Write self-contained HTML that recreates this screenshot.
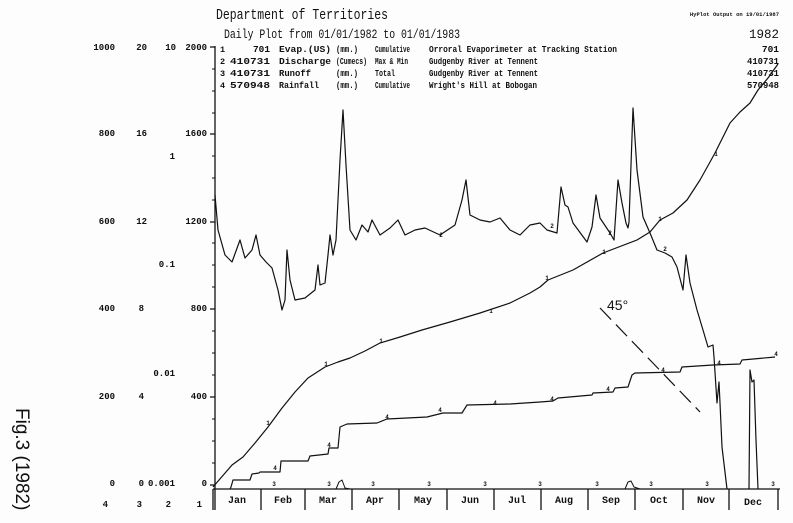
<!DOCTYPE html>
<html><head><meta charset="utf-8"><style>
html,body{margin:0;padding:0;background:#fff;}
svg{display:block;}
text{font-family:"Liberation Mono",monospace;fill:#111;}
</style></head><body>
<svg width="793" height="523" viewBox="0 0 793 523" xmlns="http://www.w3.org/2000/svg">
<rect width="793" height="523" fill="#fdfdfd"/>
<text x="216" y="19" font-size="15" textLength="172" lengthAdjust="spacingAndGlyphs">Department of Territories</text>
<text x="224" y="38" font-size="12.5" textLength="236" lengthAdjust="spacingAndGlyphs">Daily Plot from 01/01/1982 to 01/01/1983</text>
<text x="779" y="16" font-size="5.5" text-anchor="end" font-weight="bold">HyPlot Output on 19/01/1987</text>
<text x="779" y="38" font-size="12.5" text-anchor="end">1982</text>
<g font-size="9.5" font-weight="bold">
<text x="220" y="52" font-size="8.5">1</text><text x="253" y="52" textLength="17" lengthAdjust="spacingAndGlyphs">701</text><text x="279" y="52" textLength="52" lengthAdjust="spacingAndGlyphs">Evap.(US)</text><text x="336" y="52" textLength="22" lengthAdjust="spacingAndGlyphs">(mm.)</text><text x="375" y="52" textLength="35" lengthAdjust="spacingAndGlyphs">Cumulative</text><text x="429" y="52" textLength="188" lengthAdjust="spacingAndGlyphs">Orroral Evaporimeter at Tracking Station</text><text x="779" y="52" text-anchor="end">701</text>
<text x="220" y="64" font-size="8.5">2</text><text x="230" y="64" textLength="40" lengthAdjust="spacingAndGlyphs">410731</text><text x="279" y="64" textLength="52" lengthAdjust="spacingAndGlyphs">Discharge</text><text x="336" y="64" textLength="31" lengthAdjust="spacingAndGlyphs">(Cumecs)</text><text x="375" y="64" textLength="33" lengthAdjust="spacingAndGlyphs">Max &amp; Min</text><text x="429" y="64" textLength="109" lengthAdjust="spacingAndGlyphs">Gudgenby River at Tennent</text><text x="779" y="64" text-anchor="end" textLength="32" lengthAdjust="spacingAndGlyphs">410731</text>
<text x="220" y="76" font-size="8.5">3</text><text x="230" y="76" textLength="40" lengthAdjust="spacingAndGlyphs">410731</text><text x="279" y="76" textLength="32" lengthAdjust="spacingAndGlyphs">Runoff</text><text x="336" y="76" textLength="22" lengthAdjust="spacingAndGlyphs">(mm.)</text><text x="375" y="76" textLength="20" lengthAdjust="spacingAndGlyphs">Total</text><text x="429" y="76" textLength="109" lengthAdjust="spacingAndGlyphs">Gudgenby River at Tennent</text><text x="779" y="76" text-anchor="end" textLength="32" lengthAdjust="spacingAndGlyphs">410731</text>
<text x="220" y="88" font-size="8.5">4</text><text x="230" y="88" textLength="40" lengthAdjust="spacingAndGlyphs">570948</text><text x="279" y="88" textLength="40" lengthAdjust="spacingAndGlyphs">Rainfall</text><text x="336" y="88" textLength="22" lengthAdjust="spacingAndGlyphs">(mm.)</text><text x="375" y="88" textLength="35" lengthAdjust="spacingAndGlyphs">Cumulative</text><text x="429" y="88" textLength="108" lengthAdjust="spacingAndGlyphs">Wright's Hill at Bobogan</text><text x="779" y="88" text-anchor="end" textLength="32" lengthAdjust="spacingAndGlyphs">570948</text>
</g>
<g font-size="9" font-weight="bold" text-anchor="end">
<text x="115" y="50">1000</text><text x="147" y="50">20</text><text x="176" y="50">10</text><text x="207" y="50">2000</text>
<text x="115" y="136">800</text><text x="147" y="136">16</text><text x="207" y="136">1600</text>
<text x="175" y="159">1</text>
<text x="115" y="224">600</text><text x="147" y="224">12</text><text x="207" y="224">1200</text>
<text x="175" y="267">0.1</text>
<text x="115" y="311">400</text><text x="144" y="311">8</text><text x="207" y="311">800</text>
<text x="175" y="376">0.01</text>
<text x="115" y="399">200</text><text x="144" y="399">4</text><text x="207" y="399">400</text>
<text x="115" y="486">0</text><text x="144" y="486">0</text><text x="175" y="486">0.001</text><text x="207" y="486">0</text>
<text x="108" y="507">4</text><text x="142" y="507">3</text><text x="171" y="507">2</text><text x="202" y="507">1</text>
</g>
<text transform="translate(16,408) rotate(90)" font-size="19" style="font-family:'Liberation Sans',sans-serif">Fig.3 (1982)</text>
<g stroke="#111" stroke-width="1.3" fill="none">
<line x1="215" y1="46" x2="215" y2="510"/>
<line x1="213" y1="489" x2="780" y2="489"/>
<path d="M213 489V510M261 489V510M305 489V510M352 489V510M399 489V510M447 489V510M494 489V510M541 489V510M588 489V510M635 489V510M683 489V510M729 489V510M778 489V510"/>
<path d="M210 47H215M210 134H215M210 222H215M210 309H215M210 397H215M210 485H215" />
<path d="M212 69H215M212 91H215M212 113H215M212 156H215M212 178H215M212 200H215M212 243H215M212 265H215M212 287H215M212 331H215M212 353H215M212 375H215M212 419H215M212 441H215M212 463H215" stroke-width="1"/>
</g>
<g font-size="10" font-weight="bold" text-anchor="middle">
<text x="237" y="503">Jan</text><text x="283" y="503">Feb</text><text x="328" y="503">Mar</text><text x="375" y="503">Apr</text><text x="423" y="503">May</text><text x="470" y="503">Jun</text><text x="517" y="503">Jul</text><text x="564" y="503">Aug</text><text x="611" y="503">Sep</text><text x="659" y="503">Oct</text><text x="706" y="503">Nov</text><text x="753" y="505">Dec</text>
</g>
<g fill="none" stroke="#111" stroke-width="1.2" stroke-linejoin="round">
<polyline points="215,195 218,230 225,255 232,262 240,240 245,258 252,250 256,235 260,255 266,262 272,268 278,290 282,310 285,300 287,250 290,280 295,300 305,298 315,290 318,265 320,285 325,283 328,255 330,235 333,255 336,240 340,160 343,110 346,165 350,230 356,240 362,225 368,232 372,220 380,235 390,228 398,220 405,235 415,230 425,228 440,235 455,225 462,200 466,180 470,215 480,220 490,222 500,218 510,230 520,235 530,225 540,223 547,230 557,233 561,187 565,205 568,207 573,223 587,242 592,227 596,195 600,218 610,233 614,240 618,180 622,203 626,223 628,228 629,222 633,108 637,170 643,217 650,233 657,250 665,253 672,257 677,267 683,290 686,255 690,283 697,310 703,330 708,347 713,345 714,357 717,403 719,382 720,403 722,447 727,489"/>
<polyline points="749,489 750,370 752,382 754,380 756,440 758,489"/>
<polyline points="213,487 232,465 243,457 255,443 268,427 282,408 295,392 308,378 325,367 338,362 350,358 365,351 380,343 400,337 422,330 450,322 480,313 510,303 530,293 540,287 548,280 573,270 603,253 637,240 650,232 660,220 673,213 687,200 700,180 715,153 730,123 740,112 750,103 758,90 768,78 778,64"/>
<polyline points="230,489 231,487 233,480 250,480 252,474 259,473 260,472 280,472 281,461 308,461 310,456 328,454 329,448 338,448 340,427 347,424 377,423 387,419 427,417 443,413 462,413 467,405 510,404 540,402 553,401 558,398 592,395 593,393 613,392 615,388 628,387 632,375 635,373 680,372 682,367 713,365 740,364 742,360 775,357"/>
<polyline points="215,489 336,489 339,482 342,480 345,488 350,489 625,489 628,482 631,481 634,487 640,489 780,489" stroke-width="1"/>
<line x1="600" y1="308" x2="700" y2="412" stroke-dasharray="16,7"/>
</g>
<text x="607" y="310" font-size="14" style="font-family:'Liberation Sans',sans-serif">45°</text>
<g font-size="6" font-weight="bold" text-anchor="middle">
<text x="268" y="425">1</text><text x="326" y="366">1</text><text x="381" y="343">1</text><text x="491" y="313">1</text><text x="547" y="280">1</text><text x="604" y="254">1</text><text x="660" y="221">1</text><text x="716" y="156">1</text>
<text x="275" y="470">4</text><text x="329" y="447">4</text><text x="387" y="419">4</text><text x="440" y="412">4</text><text x="495" y="405">4</text><text x="552" y="401">4</text><text x="608" y="391">4</text><text x="663" y="372">4</text><text x="719" y="365">4</text><text x="776" y="356">4</text>
<text x="274" y="486">3</text><text x="329" y="486">3</text><text x="373" y="486">3</text><text x="429" y="486">3</text><text x="485" y="486">3</text><text x="540" y="486">3</text><text x="597" y="486">3</text><text x="651" y="486">3</text><text x="707" y="486">3</text><text x="773" y="486">3</text>
<text x="552" y="228">2</text><text x="610" y="235">2</text><text x="665" y="251">2</text><text x="441" y="237">2</text>
</g>
</svg>
</body></html>
